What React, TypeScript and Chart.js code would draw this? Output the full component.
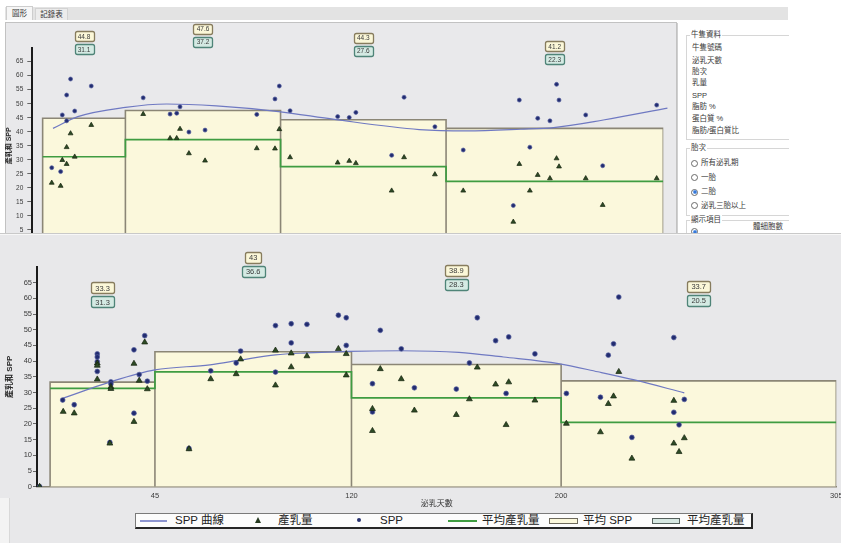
import React, { useEffect, useRef } from 'react';
import { Chart, registerables } from 'chart.js';

Chart.register(...registerables);

const FONT = '"Liberation Sans", "DejaVu Sans", "Noto Sans CJK TC", sans-serif';
Chart.defaults.font.family = FONT;

// ---- shared axis data ----
const binEdges = [5, 45, 120, 200, 305];
const xTickValues = [45, 120, 200, 305];
const yTickValues = [0, 5, 10, 15, 20, 25, 30, 35, 40, 45, 50, 55, 60, 65];
const xTitle = '泌乳天數';
const yTitle = '產乳和 SPP';

// ---- upper (background) window ----
const upperAvgSpp = [44.8, 47.6, 44.3, 41.2];
const upperAvgMilk = [31.1, 37.2, 27.6, 22.3];
const upperCurveDays = [10, 22, 45, 65, 89, 119, 146, 187, 210, 236, 252, 276, 307];
const upperCurveSpp = [41.2, 45.4, 48.7, 49.9, 49.2, 47.2, 44.4, 40.8, 40.3, 40.9, 41.5, 44.2, 48.4];
const upperCowDays = [9.4, 13.7, 14.5, 16.6, 16.6, 18.5, 20.5, 28.5, 53.6, 66.6, 69.8, 71.4, 75.7, 83.5, 108.5, 117.3, 119.4, 124.6, 147.6, 153.2, 156.4, 173.7, 179.7, 194.6, 208.3, 235.4, 232.5, 240.5, 244.3, 250.2, 253.4, 254.6, 267.5, 275.7, 301.8];
const upperSppValues = [27.2, 25.8, 46.0, 53.1, 43.9, 58.8, 47.4, 56.3, 52.1, 46.3, 46.6, 48.9, 39.9, 40.6, 46.2, 51.7, 56.3, 47.5, 45.4, 45.1, 46.9, 31.6, 52.3, 41.8, 33.5, 51.3, 13.7, 34.5, 44.8, 43.9, 56.9, 51.3, 46.0, 27.9, 49.5];
const upperMilkValues = [21.8, 20.7, 29.9, 34.5, 28.5, 39.4, 31.1, 42.4, 46.3, 37.7, 37.7, 41.0, 32.3, 29.7, 34.1, 34.0, 40.9, 30.9, 29.0, 29.6, 28.8, 19.0, 30.9, 24.8, 19.0, 28.5, 7.9, 19.0, 24.6, 23.4, 30.5, 27.6, 23.4, 13.9, 23.4];

// ---- lower (front) window ----
const lowerAvgSpp = [33.3, 43, 38.9, 33.7];
const lowerAvgMilk = [31.3, 36.6, 28.3, 20.5];
const lowerCurveDays = [10, 28, 45, 66, 78, 91, 103, 119, 139, 161, 178, 199, 214, 228, 247];
const lowerCurveSpp = [28.2, 33.4, 37.2, 38.8, 40.4, 42.0, 42.6, 43.1, 43.3, 42.8, 41.3, 39.2, 36.6, 34.0, 29.9];
const lowerSppDays = [1, 9.8, 14.2, 23, 23, 23, 23, 28.2, 28.2, 27.8, 37, 37, 39, 41.1, 42.1, 58, 66.3, 76, 77.7, 91, 91, 97, 97, 103, 115, 118, 118, 128, 128, 131, 139, 144, 160, 165, 168, 175, 180, 179, 190, 202, 215, 218, 220, 222, 227, 243, 243, 245, 247];
const lowerSppValues = [0, 27.6, 26.1, 42.3, 41.3, 39.8, 36.7, 33.4, 32.7, 14.1, 43.6, 23.4, 35.7, 48.1, 33.6, 12.2, 36.9, 39.4, 43.2, 51.3, 36.5, 51.9, 45.8, 51.7, 54.6, 53.8, 45.0, 32.8, 23.8, 49.8, 43.9, 31.5, 31.1, 39.4, 53.8, 46.5, 47.7, 29.7, 42.3, 29.7, 28.5, 41.9, 45.5, 60.4, 15.7, 47.5, 23.7, 19.7, 27.8];
const lowerMilkDays = [1, 10, 14.2, 23, 23, 23, 28.2, 28.2, 27.8, 37, 37, 39, 41.1, 42.1, 58, 66.3, 76, 77.7, 91, 91, 97, 97, 103, 115, 118, 118, 128, 128, 131, 139, 144, 160, 165, 168, 175, 180, 179, 190, 202, 215, 218, 220, 222, 227, 243, 243, 245, 247];
const lowerMilkValues = [0, 23.9, 23.4, 39.3, 38.6, 34.2, 31.8, 31.2, 13.8, 39.2, 20.7, 33.8, 46.0, 31.1, 12.0, 34.3, 35.9, 40.6, 43.4, 32.3, 42.5, 38.1, 41.6, 43.9, 42.3, 35.5, 24.8, 17.8, 37.5, 34.3, 24.3, 22.9, 27.9, 38.0, 32.6, 33.3, 19.7, 27.5, 20.1, 17.4, 26.4, 28.8, 36.6, 9.0, 27.4, 13.8, 11.1, 15.5];

// ---- legend / side panel text ----
const legendLabels = ['SPP 曲線', '產乳量', 'SPP', '平均產乳量', '平均 SPP', '平均產乳量'];
const tabLabels = ['圖形', '記錄表'];
const cowFields = ['牛隻號碼', '泌乳天數', '胎次', '乳量', 'SPP', '脂肪 %', '蛋白質 %', '脂肪/蛋白質比'];
const parityOptions = ['所有泌乳期', '一胎', '二胎', '泌乳三胎以上'];

function zip(xs: number[], ys: number[]) {
  return xs.map((x, i) => ({ x, y: ys[i] }));
}

function drawTag(ctx: CanvasRenderingContext2D, text: string, cx: number, cy: number, size: number, pad: number, fill: string, stroke: string) {
  ctx.font = `${size}px ${FONT}`;
  const w = Math.round(ctx.measureText(text).width + pad);
  const h = Math.round(size + 3);
  const x = Math.round(cx - w / 2) + 0.5;
  const y = Math.round(cy - h / 2) + 0.5;
  const r = 2;
  ctx.beginPath();
  ctx.moveTo(x + r, y);
  ctx.lineTo(x + w - r, y);
  ctx.quadraticCurveTo(x + w, y, x + w, y + r);
  ctx.lineTo(x + w, y + h - r);
  ctx.quadraticCurveTo(x + w, y + h, x + w - r, y + h);
  ctx.lineTo(x + r, y + h);
  ctx.quadraticCurveTo(x, y + h, x, y + h - r);
  ctx.lineTo(x, y + r);
  ctx.quadraticCurveTo(x, y, x + r, y);
  ctx.closePath();
  ctx.fillStyle = fill;
  ctx.fill();
  ctx.lineWidth = 1.3;
  ctx.strokeStyle = stroke;
  ctx.stroke();
  ctx.fillStyle = '#3a3a3a';
  ctx.textAlign = 'center';
  ctx.textBaseline = 'middle';
  ctx.fillText(text, cx, cy + 0.5);
}

type Spec = {
  left: number; top: number; width: number; height: number;
  plotLeft: number; plotRight: number; plotTop: number; plotBottom: number; xAxisHeight: number;
  tickFont: number; titleFont: number; yTitlePad: number; yTickLen: number; yTickPad: number; xTickPad: number;
  tagFont: number; tagPad: number; tagLift: number; tagGap: number; dotR: number; triR: number;
  avgSpp: number[]; avgMilk: number[]; curveDays: number[]; curveSpp: number[];
  sppDays: number[]; sppValues: number[]; milkDays: number[]; milkValues: number[];
};

function HerdChart({ spec }: { spec: Spec }) {
  const ref = useRef<HTMLCanvasElement>(null);
  useEffect(() => {
    const s = spec;
    const boxes: { x: number; y: number }[] = [];
    s.avgSpp.forEach((h, i) => {
      boxes.push({ x: binEdges[i], y: 0 }, { x: binEdges[i], y: h }, { x: binEdges[i + 1], y: h }, { x: binEdges[i + 1], y: 0 });
    });
    const steps = s.avgMilk.map((v, i) => ({ x: binEdges[i], y: v }));
    steps.push({ x: binEdges[binEdges.length - 1], y: s.avgMilk[s.avgMilk.length - 1] });

    const tagPlugin = {
      id: 'binTags',
      afterDatasetsDraw(chart: any) {
        const { ctx, scales } = chart;
        ctx.save();
        s.avgSpp.forEach((v, i) => {
          const cx = scales.x.getPixelForValue((binEdges[i] + binEdges[i + 1]) / 2);
          const cy = scales.y.getPixelForValue(v + s.tagLift);
          drawTag(ctx, String(v), cx, cy, s.tagFont, s.tagPad, '#fbf7d8', '#877c5e');
          drawTag(ctx, String(s.avgMilk[i]), cx, cy + s.tagGap, s.tagFont, s.tagPad, '#d4eae3', '#4f8478');
        });
        ctx.restore();
      },
    };

    const chart = new Chart(ref.current as HTMLCanvasElement, {
      type: 'line',
      data: {
        datasets: [
          {
            label: legendLabels[1], data: zip(s.milkDays, s.milkValues), showLine: false,
            pointStyle: 'triangle', pointRadius: s.triR, pointBackgroundColor: '#2d4b25',
            pointBorderColor: '#15230f', pointBorderWidth: 0.7, order: 0,
          },
          {
            label: legendLabels[2], data: zip(s.sppDays, s.sppValues), showLine: false,
            pointStyle: 'circle', pointRadius: s.dotR, pointBackgroundColor: '#222c70',
            pointBorderColor: '#56609f', pointBorderWidth: 0.7, order: 1,
          },
          {
            label: legendLabels[0], data: zip(s.curveDays, s.curveSpp), borderColor: '#6f79c2',
            borderWidth: 1.2, pointRadius: 0, cubicInterpolationMode: 'monotone', fill: false,
            clip: false, order: 2,
          },
          {
            label: legendLabels[3], data: steps, stepped: 'before', borderColor: '#3f9c41',
            borderWidth: 1.7, pointRadius: 0, fill: false, order: 3,
          },
          {
            label: legendLabels[4], data: boxes, borderColor: '#8b8676', borderWidth: 1.6,
            backgroundColor: '#fbf8dc', fill: 'origin', pointRadius: 0, tension: 0, order: 4,
          },
        ] as any,
      },
      options: {
        animation: false,
        responsive: false,
        devicePixelRatio: 1,
        events: [],
        layout: {
          padding: {
            left: 0,
            right: s.width - s.plotRight,
            top: s.plotTop,
            bottom: s.height - s.plotBottom - s.xAxisHeight,
          },
        },
        plugins: { legend: { display: false }, tooltip: { enabled: false } },
        scales: {
          x: {
            type: 'linear', min: 0, max: 305,
            afterBuildTicks: (sc: any) => { sc.ticks = xTickValues.map((v) => ({ value: v })); },
            afterFit: (sc: any) => { sc.height = s.xAxisHeight; sc.paddingLeft = 0; sc.paddingRight = 0; },
            grid: { display: false, drawTicks: false },
            border: { display: true, color: '#8b8676', width: 1.5 },
            ticks: { autoSkip: false, maxRotation: 0, padding: s.xTickPad, color: '#3a3a3a', font: { size: s.tickFont } },
            title: { display: true, text: xTitle, color: '#333', padding: 0, font: { size: s.titleFont } },
          },
          y: {
            type: 'linear', min: 0, max: 70,
            afterBuildTicks: (sc: any) => { sc.ticks = yTickValues.map((v) => ({ value: v })); },
            afterFit: (sc: any) => { sc.width = s.plotLeft; sc.paddingTop = 0; sc.paddingBottom = 0; },
            grid: { display: true, drawOnChartArea: false, drawTicks: true, tickLength: s.yTickLen, color: '#666', lineWidth: 1 },
            border: { display: true, color: '#1b1b1b', width: 2 },
            ticks: { padding: s.yTickPad, color: '#3a3a3a', font: { size: s.tickFont } },
            title: {
              display: true, text: yTitle, color: '#2a2a2a',
              padding: { top: s.yTitlePad, bottom: 0 }, font: { size: s.titleFont, weight: 'bold' },
            },
          },
        },
      } as any,
      plugins: [tagPlugin],
    });
    return () => chart.destroy();
  }, [spec]);
  return (
    <canvas
      ref={ref}
      width={spec.width}
      height={spec.height}
      style={{ position: 'absolute', left: spec.left, top: spec.top, width: spec.width, height: spec.height }}
    />
  );
}

const upperSpec: Spec = {
  left: 5, top: 23, width: 672, height: 260,
  plotLeft: 27.3, plotRight: 658.3, plotTop: 24.6, plotBottom: 221, xAxisHeight: 39,
  tickFont: 6.5, titleFont: 7, yTitlePad: 0, yTickLen: 5, yTickPad: 4, xTickPad: 4,
  tagFont: 6.5, tagPad: 6, tagLift: 29.2, tagGap: 13, dotR: 2, triR: 2.8,
  avgSpp: upperAvgSpp, avgMilk: upperAvgMilk, curveDays: upperCurveDays, curveSpp: upperCurveSpp,
  sppDays: upperCowDays, sppValues: upperSppValues, milkDays: upperCowDays, milkValues: upperMilkValues,
};

const lowerSpec: Spec = {
  left: 0, top: 2, width: 841, height: 308,
  plotLeft: 37, plotRight: 838, plotTop: 31.9, plotBottom: 251.7, xAxisHeight: 22,
  tickFont: 7.5, titleFont: 8, yTitlePad: 5, yTickLen: 4, yTickPad: 1, xTickPad: 5,
  tagFont: 7.5, tagPad: 8, tagLift: 30, tagGap: 14, dotR: 2.4, triR: 3.4,
  avgSpp: lowerAvgSpp, avgMilk: lowerAvgMilk, curveDays: lowerCurveDays, curveSpp: lowerCurveSpp,
  sppDays: lowerSppDays, sppValues: lowerSppValues, milkDays: lowerMilkDays, milkValues: lowerMilkValues,
};

const smallText: React.CSSProperties = { position: 'absolute', fontSize: 7.5, lineHeight: '10px', color: '#3a3a3a', whiteSpace: 'nowrap' };

function Radio({ left, top, on }: { left: number; top: number; on?: boolean }) {
  return (
    <div style={{ position: 'absolute', left, top, width: 7, height: 7, borderRadius: '50%', border: '1px solid #6a6a6a', background: '#fff', boxSizing: 'border-box' }}>
      {on ? <div style={{ position: 'absolute', left: 1.5, top: 1.5, width: 2, height: 2, borderRadius: '50%', background: '#2b6fd3', boxShadow: '0 0 0 1px #5a95e8' }} /> : null}
    </div>
  );
}

function SidePanel() {
  const centers1 = [25.3, 37.7, 49.3, 60.3, 72.7, 84.3, 96, 108];
  const centers2 = [140.3, 154.7, 169, 182.7];
  return (
    <div style={{ position: 'absolute', left: 677, top: 23, width: 111, height: 215, background: '#fff', borderLeft: '1px solid #cfcfcf', overflow: 'hidden' }}>
      <div style={{ position: 'absolute', left: 8, top: 12, width: 130, height: 103, border: '1px solid #d6d6d6' }} />
      <div style={{ ...smallText, left: 12, top: 7, background: '#fff', padding: '0 1px' }}>牛隻資料</div>
      {cowFields.map((t, i) => (
        <div key={t} style={{ ...smallText, left: 14, top: centers1[i] - 5 }}>{t}</div>
      ))}
      <div style={{ position: 'absolute', left: 8, top: 125, width: 130, height: 66, border: '1px solid #d6d6d6' }} />
      <div style={{ ...smallText, left: 12, top: 120, background: '#fff', padding: '0 1px' }}>胎次</div>
      {parityOptions.map((t, i) => (
        <React.Fragment key={t}>
          <Radio left={13} top={centers2[i] - 3.5} on={i === 2} />
          <div style={{ ...smallText, left: 23, top: centers2[i] - 5 }}>{t}</div>
        </React.Fragment>
      ))}
      <div style={{ position: 'absolute', left: 8, top: 197, width: 130, height: 40, border: '1px solid #d6d6d6' }} />
      <div style={{ ...smallText, left: 12, top: 192, background: '#fff', padding: '0 1px' }}>顯示項目</div>
      <div style={{ ...smallText, left: 75, top: 199 }}>體細胞數</div>
      <Radio left={13} top={205} on />
    </div>
  );
}

function UpperWindow() {
  return (
    <div style={{ position: 'absolute', left: 0, top: 0, width: 841, height: 233, overflow: 'hidden', background: '#fff' }}>
      <div style={{ position: 'absolute', left: 5, top: 7, width: 783, height: 13, background: '#e3e3e3' }} />
      <div style={{ position: 'absolute', left: 6, top: 6, width: 27, height: 14, background: '#f6f6f6', border: '1px solid #cdcdcd', borderBottom: 'none', boxSizing: 'border-box', fontSize: 7.5, lineHeight: '13px', textAlign: 'center', color: '#333' }}>{tabLabels[0]}</div>
      <div style={{ position: 'absolute', left: 35, top: 8, width: 33, height: 12, background: '#ececec', border: '1px solid #d3d3d3', borderBottom: 'none', boxSizing: 'border-box', fontSize: 7.5, lineHeight: '11px', textAlign: 'center', color: '#333' }}>{tabLabels[1]}</div>
      <div style={{ position: 'absolute', left: 5, top: 22, width: 672, height: 230, background: '#e9e9eb', border: '1px solid #c2c2c2', boxSizing: 'border-box' }} />
      <HerdChart spec={upperSpec} />
      <SidePanel />
    </div>
  );
}

const legendText: React.CSSProperties = { position: 'absolute', top: -1, fontSize: 11.5, lineHeight: '14px', color: '#222', whiteSpace: 'nowrap' };

function Legend() {
  return (
    <div style={{ position: 'absolute', left: 135, top: 280, width: 618, height: 16, background: '#fcfcfc', border: '1px solid #7a7a7a', borderRight: '2px solid #262626', borderBottom: '2px solid #262626', boxSizing: 'border-box' }}>
      <div style={{ position: 'absolute', left: 4, top: 6, width: 27, height: 1.5, background: '#8d95d0' }} />
      <div style={{ ...legendText, left: 39 }}>{legendLabels[0]}</div>
      <div style={{ position: 'absolute', left: 119, top: 3, width: 0, height: 0, borderLeft: '3px solid transparent', borderRight: '3px solid transparent', borderBottom: '6px solid #263a20' }} />
      <div style={{ ...legendText, left: 142 }}>{legendLabels[1]}</div>
      <div style={{ position: 'absolute', left: 221, top: 4, width: 4, height: 4, borderRadius: '50%', background: '#283270' }} />
      <div style={{ ...legendText, left: 244 }}>{legendLabels[2]}</div>
      <div style={{ position: 'absolute', left: 312, top: 6, width: 29, height: 1.6, background: '#3f9c41' }} />
      <div style={{ ...legendText, left: 346 }}>{legendLabels[3]}</div>
      <div style={{ position: 'absolute', left: 413, top: 3.5, width: 29, height: 6, background: '#fbf8dc', border: '1px solid #6e6a5c', boxSizing: 'border-box' }} />
      <div style={{ ...legendText, left: 447 }}>{legendLabels[4]}</div>
      <div style={{ position: 'absolute', left: 516, top: 3.5, width: 28, height: 6, background: '#d6e8e2', border: '1px solid #55605c', boxSizing: 'border-box' }} />
      <div style={{ ...legendText, left: 551 }}>{legendLabels[5]}</div>
    </div>
  );
}

function LowerWindow() {
  return (
    <div style={{ position: 'absolute', left: 0, top: 233, width: 841, height: 310, overflow: 'hidden', background: '#e8e8ea' }}>
      <div style={{ position: 'absolute', left: 0, top: 0, width: 841, height: 1, background: '#c9c9c9' }} />
      <div style={{ position: 'absolute', left: 0, top: 1, width: 841, height: 1, background: '#f7f7f7' }} />
      <div style={{ position: 'absolute', left: 0, top: 265, width: 9, height: 45, background: '#f3f3f3', borderRight: '1px solid #d8d8d8' }} />
      <HerdChart spec={lowerSpec} />
      <Legend />
    </div>
  );
}

export default function App() {
  useEffect(() => {
    document.body.style.margin = '0';
  }, []);
  return (
    <div style={{ position: 'fixed', left: 0, top: 0, width: 841, height: 543, overflow: 'hidden', background: '#fff', fontFamily: FONT }}>
      <UpperWindow />
      <LowerWindow />
    </div>
  );
}
